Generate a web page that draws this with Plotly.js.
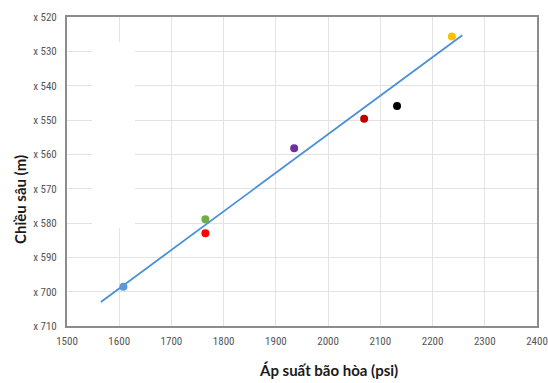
<!DOCTYPE html>
<html>
<head>
<meta charset="utf-8">
<script src="https://cdn.plot.ly/plotly-3.0.1.min.js"></script>
<style>html,body{margin:0;padding:0;background:#fff;}#chart{width:548px;height:383px;}</style>
</head>
<body>
<div id="chart"></div>
<script>
// Data
const pressure = [1608, 1765, 1765, 1935, 2069, 2132, 2237];
const depth    = [598.6, 578.9, 583.0, 558.2, 549.6, 545.9, 525.7];
const pointColors = ['#5b9bd5', '#70ad47', '#ff0000', '#7030a0', '#c00000', '#000000', '#ffc000'];
const trendX = [1565, 2257];
const trendY = [603.0, 525.3];
const yTickVals = [520, 530, 540, 550, 560, 570, 580, 590, 600, 610];
const yTickText = ['x 520', 'x 530', 'x 540', 'x 550', 'x 560', 'x 570', 'x 580', 'x 590', 'x 700', 'x 710'];
const xTickVals = [1500, 1600, 1700, 1800, 1900, 2000, 2100, 2200, 2300, 2400];
const xTitle = 'Áp suất bão hòa (psi)';
const yTitle = 'Chiều sâu (m)';

const tickFont = {family: 'Liberation Sans Narrow, Roboto Condensed, Lato, sans-serif', size: 11, color: '#555555'};

const traces = [
  {x: trendX, y: trendY, mode: 'lines', line: {color: '#4a90d9', width: 1.8}, hoverinfo: 'skip'},
  {x: pressure, y: depth, mode: 'markers', marker: {color: pointColors, size: 8, line: {width: 0}}}
];

const layout = {
  width: 548, height: 383,
  margin: {l: 67, r: 11, t: 17, b: 57},
  paper_bgcolor: '#fff', plot_bgcolor: '#fff',
  showlegend: false,
  font: {family: 'Lato, sans-serif'},
  xaxis: {
    range: [1500, 2400], tickvals: xTickVals, ticks: '',
    showgrid: true, gridcolor: '#e3e3e3', gridwidth: 1,
    showline: true, linecolor: '#8c8c8c', linewidth: 2, mirror: true,
    zeroline: false, tickfont: tickFont, ticklabelstandoff: 4
  },
  yaxis: {
    range: [610, 520], tickvals: yTickVals, ticktext: yTickText, ticks: '',
    showgrid: true, gridcolor: '#e3e3e3', gridwidth: 1,
    showline: true, linecolor: '#8c8c8c', linewidth: 2, mirror: true,
    zeroline: false, tickfont: tickFont, ticklabelstandoff: 6
  },
  shapes: [
    {type: 'rect', xref: 'x', yref: 'y', x0: 1548, x1: 1630, y0: 527.2, y1: 581.5,
     fillcolor: '#ffffff', line: {width: 0}, layer: 'above'}
  ],
  annotations: [
    {text: '<b>' + xTitle + '</b>', xref: 'paper', yref: 'paper', x: (328 - 67) / 470, y: -(370 - 326) / 309,
     xanchor: 'center', yanchor: 'middle', showarrow: false,
     font: {family: 'Lato, sans-serif', size: 15, color: '#1a1a1a'}},
    {text: '<b>' + yTitle + '</b>', xref: 'paper', yref: 'paper', x: -(67 - 20) / 470, y: 1 - (200 - 17) / 309,
     xanchor: 'center', yanchor: 'middle', textangle: -90, showarrow: false,
     font: {family: 'Lato, sans-serif', size: 15, color: '#1a1a1a'}}
  ]
};

Plotly.newPlot('chart', traces, layout, {staticPlot: true});
</script>
</body>
</html>
